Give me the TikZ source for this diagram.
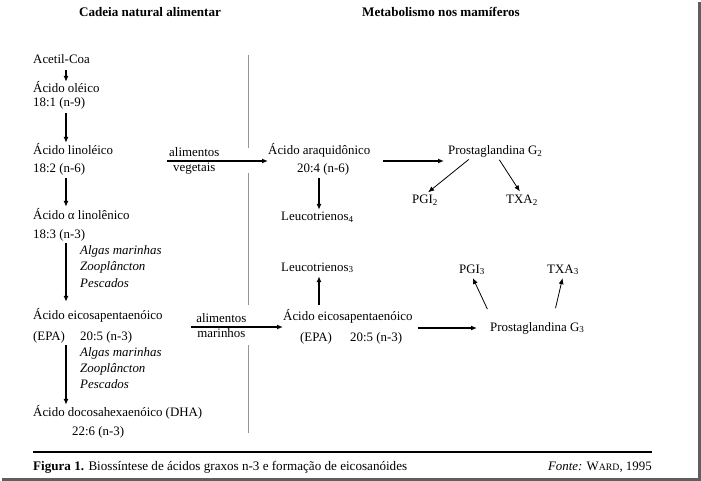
\documentclass[tikz,border=0pt]{standalone}
\usepackage{fontspec}
\setmainfont{Liberation Serif}
\usetikzlibrary{arrows.meta,positioning}
\definecolor{sepgray}{RGB}{150,150,150}
\definecolor{framegray}{RGB}{95,95,95}

\begin{document}
\begin{tikzpicture}[
			x=1pt,y=-1pt,
			lbl/.style={
				anchor=west,
				inner sep=0pt,
				text height=9pt,
				text depth=3pt,
				font=\fontsize{12.9}{15}\selectfont
			},
			ctr/.style={
				lbl,
				anchor=center
			},
			head/.style={
				ctr,
				font=\bfseries\fontsize{13.1}{15}\selectfont
			},
			srclist/.style={
				anchor=base west,
				inner sep=0pt,
				align=left,
				font=\itshape\fontsize{12.9}{16.5}\selectfont
			},
			arr/.style={
				-{Latex[length=6pt,width=5pt]},
				line width=1.2pt
			},
			thinarr/.style={
				-{Latex[length=6pt,width=5pt]},
				line width=0.8pt
			}
			]
			\useasboundingbox (0,0) rectangle (701,481);
			
			% Frame shadow
			\fill[framegray] (2,477.5) rectangle (701,481);
			\fill[framegray] (697.5,2) rectangle (701,481);
			
			% Headers
			\node[head] (hdL) at (150,14) {Cadeia natural alimentar};
			\node[head] (hdR) at (441,14) {Metabolismo nos mamíferos};
			
			% Left column
			\coordinate (colL) at (66,0);
			\node[lbl] (acetil) at (33,61) {Acetil-Coa};
			\node[lbl] (oleico) at (33,90) {Ácido oléico};
			\node[lbl] (n9) at (33,104) {18:1 (n-9)};
			\node[lbl] (linol) at (33,152) {Ácido linoléico};
			\node[lbl] (n6) at (33,170) {18:2 (n-6)};
			\node[lbl] (alin) at (33,216) {Ácido α linolênico};
			\node[lbl] (n3a) at (33,235) {18:3 (n-3)};
			% base anchor sits on the last line
			\node[srclist] (srcA) at (80,287) {Algas marinhas\\Zooplâncton\\Pescados};
			\node[lbl] (epaL) at (33,316) {Ácido eicosapentaenóico};
			\node[lbl] (epaLa) at (33,337) {(EPA)};
			\node[lbl] (n3b) at (80,337) {20:5 (n-3)};
			\node[srclist,font=\itshape\fontsize{12.9}{16}\selectfont] (srcB) at (80,388) {Algas marinhas\\Zooplâncton\\Pescados};
			\node[lbl] (dha) at (33,413) {Ácido docosahexaenóico (DHA)};
			\node[lbl] (n3c) at (72,432) {22:6 (n-3)};
			
			\draw[arr,shorten <=3pt,shorten >=2pt] (acetil.south -| colL) -- (oleico.north -| colL);
			\draw[arr,shorten <=3pt,shorten >=3pt] (n9.south -| colL) -- (linol.north -| colL);
			\draw[arr,shorten <=2pt,shorten >=3pt] (n6.south -| colL) -- (alin.north -| colL);
			\draw[arr,shorten <=2pt,shorten >=8pt] (n3a.south -| colL) -- (epaL.north -| colL);
			\draw[arr,shorten <=2pt,shorten >=2pt] (n3b.south -| colL) -- (dha.north -| colL);
			
			% Separator
			\draw[sepgray,line width=0.9pt]
			(248,55) -- (248,148)
			(248,173) -- (248,305)
			(248,345) -- (248,433);
			
			% Food sources
			\coordinate (vegIn) at (167,161);
			\coordinate (marIn) at (191,327);
			
			% Right column, n-6
			\coordinate (colA) at (319,0);
			\node[lbl] (araq) at (268,152) {Ácido araquidônico};
			\node[lbl] (n6r) at (297,170) {20:4 (n-6)};
			\node[lbl] (leu4) at (281,218) {Leucotrienos\textsubscript{4}};
			\node[lbl] (pg2) at (448,152) {Prostaglandina G\textsubscript{2}};
			\node[ctr] (pgi2) at (425,201) {PGI\textsubscript{2}};
			\node[ctr] (txa2) at (522,201) {TXA\textsubscript{2}};
			
			\draw[arr] (vegIn) --
			node[pos=0.27,above=1pt,lbl,anchor=south]{alimentos}
			node[pos=0.27,below=1pt,lbl,anchor=north]{vegetais}
			(araq.west |- vegIn);
			
			\draw[arr,shorten <=13pt,shorten >=4pt] (araq.east |- vegIn) -- (pg2.west |- vegIn);
			\draw[arr,shorten <=2pt,shorten >=2pt] (n6r.south -| colA) -- (leu4.north -| colA);
			\draw[thinarr,shorten <=2pt,shorten >=4pt] ([xshift=-25pt]pg2.south) -- (pgi2.north);
			\draw[thinarr,shorten <=2pt,shorten >=4pt] ([xshift=3pt]pg2.south) -- (txa2.north);
			
			% Right column, n-3
			\node[lbl] (leu3) at (281,268) {Leucotrienos\textsubscript{3}};
			\node[lbl] (epaR) at (283,317) {Ácido eicosapentaenóico};
			\node[lbl] (epaRa) at (300,338) {(EPA)};
			\node[lbl] (n3r) at (350,338) {20:5 (n-3)};
			\node[lbl] (pg3) at (490,328) {Prostaglandina G\textsubscript{3}};
			\node[ctr] (pgi3) at (472,270) {PGI\textsubscript{3}};
			\node[ctr] (txa3) at (563,270) {TXA\textsubscript{3}};
			
			\draw[arr] (marIn) --
			node[pos=0.33,above=1pt,lbl,anchor=south]{alimentos}
			node[pos=0.33,below=1pt,lbl,anchor=north]{marinhos}
			(epaR.west |- marIn);
			
			\draw[arr,shorten <=5pt,shorten >=13pt] (epaR.east |- pg3) -- (pg3.west);
			\draw[arr,shorten <=6pt,shorten >=2pt] (epaR.north -| colA) -- (leu3.south -| colA);
			\draw[thinarr,shorten <=14pt,shorten >=2pt] ([xshift=-44pt]pg3.north) -- (pgi3.south);
			\draw[thinarr,shorten <=14pt,shorten >=2pt] ([xshift=15pt]pg3.north) -- (txa3.south);
			
			% Caption
			\draw[line width=1.3pt] (33,452) -- (652,452);
			\node[lbl,font=\fontsize{13.1}{15}\selectfont] (caption) at (33,467) {\textbf{Figura 1.} Biossíntese de ácidos graxos n-3 e formação de eicosanóides};
			\node[lbl,anchor=east] (fonte) at (652,467) {\textit{Fonte:} W{\fontsize{9.8}{10}\selectfont ARD}, 1995};
			
		\end{tikzpicture}
\end{document}
